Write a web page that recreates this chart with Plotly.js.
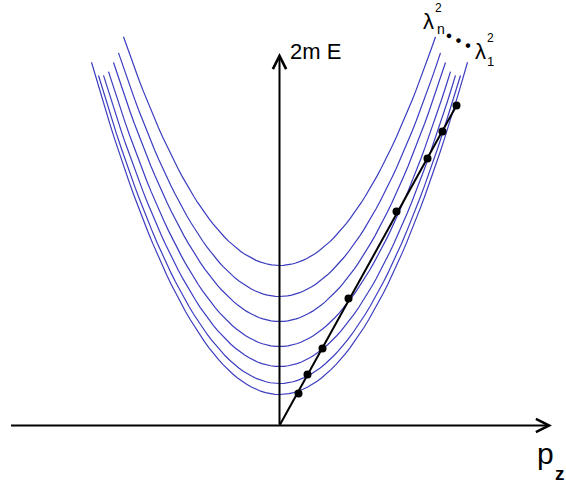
<!DOCTYPE html>
<html>
<head>
<meta charset="utf-8">
<script src="https://cdn.plot.ly/plotly-3.0.1.min.js"></script>
<style>
  html, body { margin: 0; padding: 0; background: #fff; }
  #graph { width: 566px; height: 485px; }
</style>
</head>
<body>
<div id="graph"></div>
<script>
// parabolas E = k * p^2 + lambda^2 (1 unit = 100 px)
const lambdaSq = [0.31, 0.42, 0.59, 0.79, 1.04, 1.29, 1.60]
const halfWidth = [1.88, 1.81, 1.76, 1.71, 1.66, 1.61, 1.56]
const curvature = 0.94

// straight line from the origin and the dots on it
const lineP = [0, 1.77]
const lineE = [0, 3.20]
const dotP = [0.19, 0.28, 0.43, 0.69, 1.17, 1.48, 1.63, 1.77]
const dotE = [0.32, 0.51, 0.77, 1.27, 2.14, 2.67, 2.94, 3.20]

const steps = 80
const curveColor = '#3c3cc0'

const data = []
lambdaSq.forEach((l2, i) => {
  const w = halfWidth[i]
  const xs = []
  const ys = []
  for (let j = 0; j <= steps; j++) {
    const p = -w + 2 * w * j / steps
    xs.push(p)
    ys.push(curvature * p * p + l2)
  }
  data.push({
    x: xs, y: ys,
    mode: 'lines',
    line: {color: curveColor, width: 1.2},
    hoverinfo: 'skip'
  })
})

data.push({
  x: lineP, y: lineE,
  mode: 'lines',
  line: {color: '#000', width: 2},
  hoverinfo: 'skip'
})

data.push({
  x: dotP, y: dotE,
  mode: 'markers',
  marker: {color: '#000', size: 8},
  hoverinfo: 'skip'
})

const txt = (x, y, text, size, extra) => Object.assign({
  x: x, y: y, xref: 'x', yref: 'y',
  text: text, showarrow: false, borderpad: 0,
  font: {family: 'Arial, Liberation Sans, sans-serif', size: size, color: '#000'},
  xanchor: 'center', yanchor: 'middle'
}, extra || {})

const arrow = (x, y, ax, ay) => ({
  x: x, y: y, ax: ax, ay: ay,
  xref: 'x', yref: 'y', axref: 'x', ayref: 'y',
  text: '', showarrow: true,
  arrowhead: 5, arrowsize: 1.3, arrowwidth: 2, arrowcolor: '#000',
  standoff: 0
})

const annotations = [
  arrow(2.725, 0, -2.70, 0),
  arrow(0, 3.725, 0, 0),
  txt(0.355, 3.74, '2m E', 22),
  txt(2.66, -0.28, 'p', 30),
  txt(2.805, -0.475, '<b>z</b>', 19),
  txt(1.49, 4.045, 'λ', 22),
  txt(1.59, 4.175, '2', 12),
  txt(1.615, 3.97, 'n', 14),
  txt(2.01, 3.745, 'λ', 22),
  txt(2.11, 3.88, '2', 12),
  txt(2.11, 3.645, '1', 13),
  txt(1.785, 3.855, '• • •', 17, {textangle: 27})
]

const layout = {
  width: 566,
  height: 485,
  showlegend: false,
  margin: {t: 0, l: 0, r: 0, b: 0},
  paper_bgcolor: '#fff',
  plot_bgcolor: '#fff',
  xaxis: {range: [-2.795, 2.865], visible: false, fixedrange: true},
  yaxis: {range: [-0.595, 4.255], visible: false, fixedrange: true},
  annotations: annotations
}

Plotly.newPlot('graph', data, layout, {displayModeBar: false, staticPlot: true})
</script>
</body>
</html>
